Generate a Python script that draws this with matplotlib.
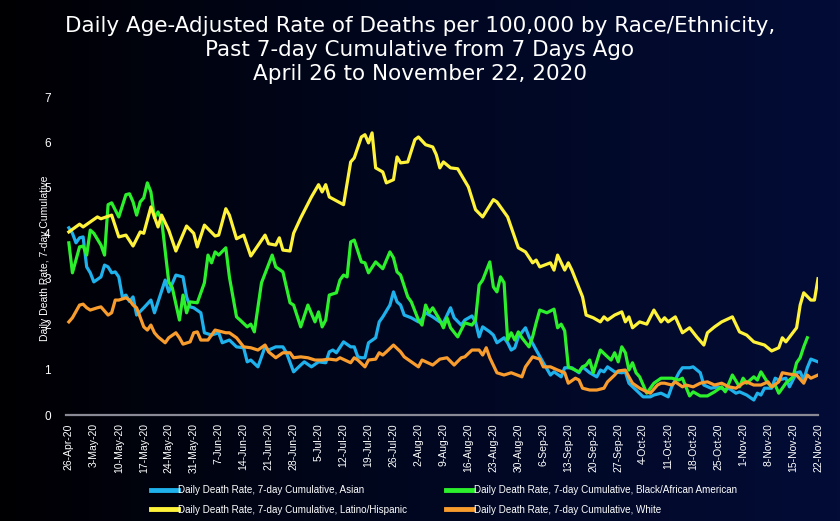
import numpy as np
import pandas as pd
import matplotlib
matplotlib.use("Agg")
import matplotlib.pyplot as plt
import matplotlib.dates as mdates
from matplotlib.colors import LinearSegmentedColormap

# ====================================
# DATA (days since 26-Apr-2020, rate per 100,000)
# ====================================

start_date = pd.Timestamp("2020-04-26")

asian_days = [0, 1, 2, 3, 4, 5, 6, 7, 9, 10, 11, 12, 13, 14, 15, 16, 17, 18, 19, 21,
              23, 24, 27, 28, 30, 32, 33, 34, 35, 37, 38, 40, 42, 43, 45, 47, 49, 50, 51, 53,
              55, 56, 58, 60, 61, 63, 65, 66, 68, 70, 72, 73, 74, 75, 77, 79, 80, 81, 82, 83,
              84, 86, 87, 88, 90, 91, 92, 93, 94, 96, 98, 99, 100, 102, 104, 105, 107, 108, 110, 111,
              113, 114, 115, 116, 118, 119, 120, 122, 123, 124, 125, 126, 128, 129, 131, 133, 135, 136, 138, 139,
              141, 143, 144, 146, 148, 149, 150, 151, 153, 155, 156, 157, 159, 161, 163, 164, 166, 168, 169, 171,
              172, 174, 175, 177, 178, 180, 182, 184, 185, 187, 188, 190, 192, 193, 194, 195, 197, 198, 199, 201,
              202, 204, 205, 206, 207, 208, 210]
asian_rate = [4.12, 4.0, 3.79, 3.9, 3.92, 3.26, 3.13, 2.93, 3.04, 3.3, 3.26, 3.13, 3.15, 3.04, 2.6, 2.64, 2.5, 2.6, 2.2, 2.36,
              2.53, 2.25, 2.97, 2.71, 3.08, 3.04, 2.6, 2.38, 2.36, 2.25, 1.81, 1.76, 1.81, 1.59, 1.65, 1.5, 1.48, 1.17, 1.21, 1.06,
              1.5, 1.43, 1.5, 1.5, 1.37, 0.95, 1.1, 1.17, 1.06, 1.17, 1.15, 1.39, 1.43, 1.37, 1.61, 1.5, 1.5, 1.28, 1.26, 1.26,
              1.59, 1.7, 2.05, 2.16, 2.42, 2.71, 2.49, 2.42, 2.2, 2.14, 2.05, 2.11, 2.25, 2.16, 2.05, 2.03, 2.36, 2.14, 1.98, 2.09,
              2.18, 2.05, 1.72, 1.94, 1.83, 1.76, 1.59, 1.7, 1.59, 1.43, 1.48, 1.72, 1.92, 1.72, 1.43, 1.15, 0.88, 0.95, 0.84, 1.04,
              1.04, 0.93, 1.06, 0.93, 0.84, 0.99, 0.95, 1.06, 0.95, 0.93, 0.95, 0.7, 0.55, 0.4, 0.4, 0.44, 0.48, 0.4, 0.62, 0.93,
              1.04, 1.04, 1.06, 0.93, 0.66, 0.59, 0.62, 0.55, 0.59, 0.48, 0.51, 0.44, 0.33, 0.48, 0.44, 0.59, 0.59, 0.81, 0.77, 0.81,
              0.62, 0.93, 0.95, 0.77, 1.04, 1.23, 1.17]

black_days = [0, 1, 3, 4, 5, 6, 7, 9, 10, 11, 12, 14, 16, 17, 18, 19, 20, 21, 22, 23,
              24, 25, 26, 28, 29, 31, 32, 33, 34, 36, 37, 38, 39, 40, 41, 42, 44, 45, 47, 48,
              50, 51, 52, 54, 57, 58, 60, 62, 63, 65, 67, 69, 70, 71, 72, 73, 75, 76, 77, 78,
              79, 80, 82, 83, 84, 86, 88, 90, 91, 92, 93, 95, 96, 98, 99, 100, 101, 102, 104, 105,
              106, 107, 109, 111, 113, 114, 115, 116, 118, 119, 120, 121, 122, 123, 124, 125, 126, 127, 129, 130,
              131, 132, 134, 136, 137, 138, 139, 140, 143, 144, 145, 146, 147, 149, 151, 152, 153, 154, 155, 156,
              157, 158, 159, 160, 162, 164, 166, 169, 171, 172, 174, 175, 177, 179, 181, 183, 184, 186, 188, 189,
              190, 192, 193, 194, 196, 197, 198, 199, 201, 203, 204, 205, 206, 207]
black_rate = [3.79, 3.13, 3.7, 3.72, 3.52, 4.07, 4.0, 3.74, 3.52, 4.63, 4.67, 4.36, 4.85, 4.87, 4.69, 4.4, 4.69, 4.78, 5.11, 4.91,
              4.34, 4.47, 4.3, 2.93, 2.8, 2.09, 2.64, 2.25, 2.49, 2.47, 2.69, 2.91, 3.52, 3.35, 3.59, 3.52, 3.68, 3.04, 2.16, 2.09,
              1.94, 2.0, 1.83, 2.91, 3.52, 3.26, 3.15, 2.47, 2.42, 1.94, 2.42, 2.05, 2.27, 1.94, 2.09, 2.64, 2.69, 2.97, 3.08, 3.04,
              3.81, 3.85, 3.37, 3.35, 3.13, 3.37, 3.22, 3.59, 3.46, 3.15, 3.08, 2.6, 2.49, 2.09, 1.98, 2.42, 2.25, 2.36, 2.09, 1.92,
              2.14, 1.92, 1.72, 2.03, 1.98, 2.09, 2.86, 2.97, 3.37, 2.82, 2.71, 3.04, 2.91, 1.65, 1.81, 1.65, 1.83, 1.7, 1.5, 1.72,
              2.03, 2.31, 2.25, 2.33, 1.92, 2.0, 1.85, 1.06, 0.95, 1.06, 1.1, 1.21, 0.93, 1.43, 1.28, 1.21, 1.37, 1.17, 1.5, 1.37,
              0.99, 1.15, 0.93, 0.84, 0.48, 0.7, 0.81, 0.81, 0.77, 0.81, 0.42, 0.51, 0.42, 0.42, 0.51, 0.62, 0.51, 0.88, 0.62, 0.81,
              0.7, 0.84, 0.77, 0.95, 0.7, 0.62, 0.66, 0.48, 0.7, 0.84, 1.15, 1.26, 1.5, 1.7]

latino_days = [0, 3, 4, 8, 9, 12, 14, 16, 18, 20, 21, 23, 25, 26, 28, 30, 33, 35, 36, 38,
               41, 42, 44, 45, 47, 49, 51, 55, 56, 58, 59, 60, 62, 63, 65, 68, 70, 71, 72, 73,
               77, 79, 80, 82, 83, 84, 85, 86, 88, 89, 91, 92, 93, 95, 97, 98, 100, 102, 103, 104,
               105, 107, 109, 112, 114, 116, 119, 120, 123, 126, 128, 130, 131, 132, 135, 136, 137, 139, 140, 141,
               144, 145, 147, 149, 150, 151, 153, 155, 156, 157, 158, 160, 162, 164, 166, 167, 168, 170, 172, 174,
               176, 178, 179, 181, 183, 186, 188, 190, 192, 195, 197, 199, 200, 201, 204, 205, 206, 208, 209, 210]
latino_rate = [4.03, 4.2, 4.14, 4.36, 4.32, 4.4, 3.92, 3.96, 3.72, 4.03, 4.0, 4.58, 4.14, 4.4, 4.07, 3.61, 4.16, 4.0, 3.7, 4.18,
               3.94, 3.96, 4.54, 4.4, 3.88, 3.96, 3.5, 3.96, 3.77, 3.74, 3.9, 3.63, 3.61, 4.0, 4.34, 4.8, 5.07, 4.91, 5.07, 4.8,
               4.63, 5.57, 5.66, 6.12, 6.17, 5.99, 6.21, 5.44, 5.35, 5.11, 5.18, 5.68, 5.55, 5.57, 6.06, 6.12, 5.95, 5.9, 5.73, 5.44,
               5.57, 5.44, 5.42, 5.02, 4.52, 4.36, 4.74, 4.69, 4.36, 3.68, 3.59, 3.35, 3.41, 3.26, 3.35, 3.19, 3.52, 3.19, 3.35, 3.19,
               2.6, 2.2, 2.14, 2.05, 2.16, 2.09, 2.2, 2.27, 2.05, 2.16, 1.92, 2.05, 2.0, 2.31, 2.05, 2.14, 2.05, 2.16, 1.81, 1.92,
               1.72, 1.54, 1.81, 1.94, 2.05, 2.16, 1.83, 1.76, 1.61, 1.54, 1.41, 1.48, 1.7, 1.61, 1.92, 2.42, 2.69, 2.53, 2.53, 3.0]

white_days = [0, 1, 3, 4, 5, 6, 8, 9, 11, 12, 13, 14, 16, 17, 18, 19, 21, 22, 23, 24,
              25, 27, 28, 30, 31, 32, 34, 35, 36, 37, 39, 41, 44, 45, 47, 49, 51, 53, 55, 56,
              58, 60, 62, 63, 65, 67, 69, 71, 73, 75, 76, 79, 80, 81, 83, 84, 86, 87, 88, 89,
              91, 93, 94, 96, 98, 99, 102, 104, 106, 108, 110, 111, 113, 115, 116, 117, 118, 120, 122, 124,
              125, 127, 128, 130, 132, 133, 135, 137, 139, 140, 142, 143, 144, 146, 148, 150, 151, 153, 154, 156,
              157, 158, 160, 162, 163, 165, 166, 167, 169, 170, 172, 173, 175, 177, 179, 181, 183, 185, 187, 189,
              190, 192, 194, 196, 197, 199, 200, 202, 204, 206, 207, 208, 210]
white_rate = [2.05, 2.14, 2.42, 2.44, 2.36, 2.31, 2.36, 2.38, 2.2, 2.25, 2.53, 2.53, 2.58, 2.53, 2.42, 2.36, 1.94, 1.87, 1.98, 1.81,
              1.72, 1.59, 1.7, 1.81, 1.7, 1.56, 1.61, 1.81, 1.83, 1.65, 1.65, 1.87, 1.81, 1.81, 1.7, 1.5, 1.48, 1.43, 1.54, 1.39,
              1.26, 1.37, 1.37, 1.26, 1.28, 1.26, 1.21, 1.21, 1.23, 1.21, 1.26, 1.15, 1.26, 1.21, 1.06, 1.21, 1.23, 1.37, 1.32, 1.39,
              1.54, 1.39, 1.28, 1.17, 1.06, 1.21, 1.1, 1.23, 1.26, 1.1, 1.26, 1.28, 1.43, 1.43, 1.32, 1.48, 1.26, 0.93, 0.88, 0.93,
              0.9, 0.84, 1.06, 1.28, 1.23, 1.06, 1.06, 0.99, 0.93, 0.7, 0.81, 0.77, 0.59, 0.55, 0.55, 0.59, 0.73, 0.88, 0.97, 0.99,
              0.84, 0.7, 0.59, 0.51, 0.48, 0.66, 0.7, 0.7, 0.66, 0.73, 0.62, 0.66, 0.62, 0.7, 0.73, 0.66, 0.7, 0.62, 0.59, 0.7,
              0.73, 0.66, 0.66, 0.73, 0.62, 0.73, 0.93, 0.9, 0.88, 0.7, 0.88, 0.81, 0.88]

series = [
    ("Daily Death Rate, 7-day Cumulative, Asian", asian_days, asian_rate, "#1fb1ec"),
    ("Daily Death Rate, 7-day Cumulative, Black/African American", black_days, black_rate, "#2cf02c"),
    ("Daily Death Rate, 7-day Cumulative, Latino/Hispanic", latino_days, latino_rate, "#fff23a"),
    ("Daily Death Rate, 7-day Cumulative, White", white_days, white_rate, "#f89c2e"),
]

title = ("Daily Age-Adjusted Rate of Deaths per 100,000 by Race/Ethnicity,\n"
         "Past 7-day Cumulative from 7 Days Ago\n"
         "April 26 to November 22, 2020")

small_font = "Liberation Sans"

# ====================================
# FIGURE + BACKGROUND
# ====================================

fig = plt.figure(figsize=(8.4, 5.21), dpi=100)

bg = fig.add_axes([0, 0, 1, 1], zorder=-10)
bg_cmap = LinearSegmentedColormap.from_list("bg", ["#000003", "#010720", "#030c36"])
bg.imshow(np.linspace(0, 1, 256).reshape(1, -1), aspect="auto", cmap=bg_cmap,
          extent=[0, 1, 0, 1])
bg.axis("off")

ax = fig.add_axes([66 / 840, 106 / 521, 752 / 840, 318 / 521])
ax.set_facecolor("none")

lines = {}
for name, days, rate, color in series:
    dates = start_date + pd.to_timedelta(days, unit="D")
    lines[name], = ax.plot(dates, rate, color=color, lw=2.3, label=name,
                           solid_joinstyle="round")

# ====================================
# AXES STYLING
# ====================================

ax.set_ylim(0, 7)
ax.set_xlim(start_date - pd.Timedelta(days=0.8), start_date + pd.Timedelta(days=210))
ax.set_yticks(range(0, 8))

ax.set_xticks(pd.date_range(start_date, periods=31, freq="7D"))
ax.xaxis.set_major_formatter(mdates.DateFormatter("%-d-%b-%y"))

for lab in ax.get_xticklabels():
    lab.set_rotation(90)
    lab.set_fontfamily(small_font)
for lab in ax.get_yticklabels():
    lab.set_fontfamily(small_font)

ax.tick_params(axis="x", colors="white", labelsize=7.5, length=0, pad=6)
ax.tick_params(axis="y", colors="white", labelsize=8.5, length=0, pad=11)

for side in ["top", "right", "left"]:
    ax.spines[side].set_visible(False)
ax.spines["bottom"].set_color("#8a8a96")
ax.spines["bottom"].set_linewidth(1.6)

fig.text(45 / 840, 1 - 258 / 521, "Daily Death Rate, 7-day Cumulative", rotation=90,
         color="white", fontsize=7.5, family=small_font, ha="center", va="center")

fig.text(0.5, 1 - 50 / 521, title, color="white", fontsize=15.5, ha="center",
         va="center", linespacing=1.27)

order = [series[0][0], series[2][0], series[1][0], series[3][0]]
leg = fig.legend([lines[n] for n in order], order, loc="center left",
                 bbox_to_anchor=(142 / 840, 1 - 500 / 521), ncol=2, frameon=False,
                 prop={"family": small_font, "size": 7.1}, labelcolor="white",
                 handlelength=2.7, handletextpad=0.1, columnspacing=3.9,
                 labelspacing=0.95)
for h in leg.legend_handles:
    h.set_linewidth(3.5)

plt.savefig("out.png", dpi=100, facecolor="black")
plt.close()
